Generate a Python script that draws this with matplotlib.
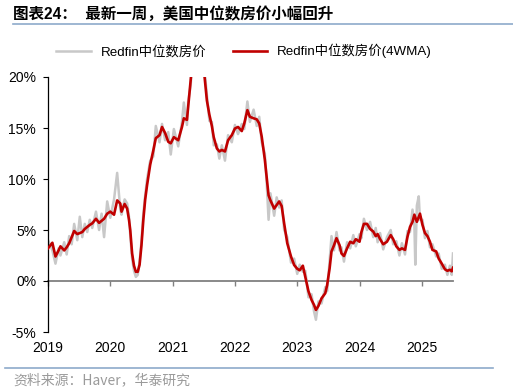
import matplotlib
matplotlib.use("Agg")
import matplotlib.pyplot as plt
from matplotlib.lines import Line2D
import matplotlib.transforms as mtransforms

plt.rcParams['font.family'] = ['Liberation Sans', 'Noto Sans CJK SC', 'DejaVu Sans']

# ---- data (decimal years, YoY %) ----
red_x = [2019.00, 2019.07, 2019.12, 2019.17, 2019.20, 2019.26, 2019.30, 2019.34, 2019.38, 2019.42,
         2019.47, 2019.51, 2019.55, 2019.59, 2019.63, 2019.67, 2019.71, 2019.77, 2019.82, 2019.86,
         2019.90, 2019.95, 2020.00, 2020.06, 2020.11, 2020.16, 2020.18, 2020.23, 2020.27, 2020.30,
         2020.32, 2020.35, 2020.38, 2020.41, 2020.44, 2020.47, 2020.50, 2020.53, 2020.56, 2020.59,
         2020.64, 2020.69, 2020.73, 2020.79, 2020.83, 2020.88, 2020.93, 2020.97, 2021.02, 2021.09,
         2021.15, 2021.18, 2021.23, 2021.25, 2021.29, 2021.33, 2021.38, 2021.42, 2021.46, 2021.51,
         2021.55, 2021.59, 2021.63, 2021.66, 2021.71, 2021.75, 2021.79, 2021.84, 2021.89, 2021.95,
         2022.00, 2022.05, 2022.11, 2022.15, 2022.20, 2022.24, 2022.30, 2022.35, 2022.39, 2022.43,
         2022.48, 2022.51, 2022.54, 2022.57, 2022.63, 2022.67, 2022.71, 2022.75, 2022.79, 2022.84,
         2022.90, 2022.95, 2023.00, 2023.04, 2023.09, 2023.13, 2023.18, 2023.23, 2023.27, 2023.30,
         2023.34, 2023.39, 2023.45, 2023.48, 2023.52, 2023.55, 2023.59, 2023.63, 2023.68, 2023.71,
         2023.75, 2023.80, 2023.85, 2023.90, 2023.94, 2024.00, 2024.03, 2024.07, 2024.12, 2024.17,
         2024.22, 2024.26, 2024.29, 2024.33, 2024.38, 2024.44, 2024.50, 2024.54, 2024.59, 2024.64,
         2024.68, 2024.73, 2024.77, 2024.81, 2024.85, 2024.88, 2024.92, 2024.97, 2025.01, 2025.05,
         2025.09, 2025.13, 2025.17, 2025.23, 2025.27, 2025.32, 2025.37, 2025.41, 2025.45, 2025.48,
         2025.50]
red_y = [3.2, 3.75, 2.4, 3.0, 3.4, 3.0, 3.3, 3.7, 4.3, 4.9,
         4.6, 4.7, 4.8, 5.1, 5.3, 5.5, 5.65, 6.1, 5.7, 5.9,
         6.1, 6.6, 6.8, 6.5, 7.9, 7.6, 6.8, 7.55, 7.1, 6.0,
         5.0, 2.7, 1.5, 0.9, 0.9, 1.6, 3.5, 6.0, 8.0, 9.4,
         11.4, 12.8, 14.0, 14.3, 15.1, 14.5, 13.65, 13.5, 14.1, 13.8,
         15.1, 15.95, 15.8, 17.1, 19.7, 22.5, 24.5, 24.8, 23.5, 20.2,
         17.7, 16.3, 15.2, 14.1, 13.0, 12.7, 12.85, 12.7, 13.8, 14.3,
         14.95, 15.1, 14.7, 15.45, 16.75, 16.1, 15.95, 15.85, 15.45, 14.15,
         11.9, 10.2, 8.4, 7.9, 7.1, 7.45, 7.8, 7.35, 5.65, 3.7,
         2.4, 1.57, 1.2, 1.05, 1.5, 0.4, -1.0, -1.86, -2.35, -2.84,
         -2.45, -1.7, -1.2, -0.4, 1.25, 2.9, 3.5, 4.2, 3.5, 2.7,
         2.45, 3.2, 3.85, 3.7, 4.1, 3.85, 4.8, 5.6, 5.6, 5.1,
         4.85, 4.4, 4.6, 4.1, 3.6, 3.85, 4.5, 4.1, 3.4, 3.05,
         3.2, 3.05, 4.35, 5.3, 5.8, 6.5, 5.8, 6.6, 5.5, 4.7,
         4.4, 3.85, 3.05, 2.9, 2.2, 1.7, 1.15, 1.0, 1.1, 0.95,
         1.3]

gray_x = [2019.00, 2019.07, 2019.12, 2019.17, 2019.20, 2019.26, 2019.30, 2019.34, 2019.38, 2019.42,
          2019.47, 2019.51, 2019.55, 2019.59, 2019.63, 2019.67, 2019.71, 2019.77, 2019.82, 2019.86,
          2019.90, 2019.95, 2020.00, 2020.06, 2020.11, 2020.16, 2020.18, 2020.23, 2020.27, 2020.30,
          2020.32, 2020.35, 2020.38, 2020.41, 2020.44, 2020.47, 2020.50, 2020.53, 2020.56, 2020.59,
          2020.64, 2020.69, 2020.73, 2020.79, 2020.83, 2020.88, 2020.93, 2020.97, 2021.02, 2021.09,
          2021.15, 2021.18, 2021.23, 2021.25, 2021.29, 2021.33, 2021.38, 2021.42, 2021.46, 2021.51,
          2021.55, 2021.59, 2021.63, 2021.66, 2021.71, 2021.75, 2021.79, 2021.84, 2021.89, 2021.95,
          2022.00, 2022.05, 2022.11, 2022.15, 2022.20, 2022.24, 2022.30, 2022.35, 2022.39, 2022.43,
          2022.48, 2022.51, 2022.54, 2022.57, 2022.63, 2022.67, 2022.71, 2022.75, 2022.79, 2022.84,
          2022.90, 2022.95, 2023.00, 2023.04, 2023.09, 2023.13, 2023.18, 2023.23, 2023.27, 2023.30,
          2023.34, 2023.39, 2023.45, 2023.48, 2023.52, 2023.55, 2023.59, 2023.63, 2023.68, 2023.71,
          2023.75, 2023.80, 2023.85, 2023.90, 2023.94, 2024.00, 2024.03, 2024.07, 2024.12, 2024.17,
          2024.22, 2024.26, 2024.29, 2024.33, 2024.38, 2024.44, 2024.50, 2024.54, 2024.59, 2024.64,
          2024.68, 2024.73, 2024.77, 2024.81, 2024.85, 2024.88, 2024.895, 2024.92, 2024.95, 2024.97,
          2025.01, 2025.05, 2025.09, 2025.13, 2025.17, 2025.23, 2025.27, 2025.32, 2025.37, 2025.41,
          2025.45, 2025.48, 2025.50]
gray_y = [4.0, 3.0, 1.7, 3.2, 2.5, 3.8, 2.6, 4.4, 3.6, 5.6,
          4.0, 6.3, 4.3, 5.6, 4.8, 6.0, 5.2, 6.8, 5.0, 6.6,
          4.3, 7.8, 6.2, 8.0, 10.6, 7.0, 6.5, 8.0, 7.6, 6.3,
          4.5, 2.2, 1.0, 0.4, 0.6, 1.9, 3.9, 6.6, 8.4, 10.0,
          11.8, 12.2, 15.2, 13.6, 15.4, 13.8, 14.6, 12.4, 14.9, 13.2,
          15.6, 17.5, 15.3, 17.6, 19.2, 23.0, 25.0, 24.4, 23.0, 20.8,
          18.2, 15.7, 15.6, 13.3, 13.4, 12.0, 13.3, 11.8, 14.3, 13.6,
          15.3, 14.4, 15.4, 14.9, 17.6, 15.6, 16.8, 15.2, 16.1, 13.6,
          12.5, 9.6, 6.0, 8.6, 6.4, 8.2, 7.2, 7.9, 5.0, 4.3,
          1.8, 2.2, 0.7, 1.6, 0.9, 1.0, -1.6, -1.3, -3.0, -3.8,
          -2.0, -2.2, -0.6, -1.0, 2.0, 4.4, 3.0, 4.8, 3.0, 3.3,
          1.9, 3.8, 3.2, 4.5, 3.4, 4.6, 4.2, 6.1, 5.0, 5.8,
          4.3, 5.2, 3.8, 4.7, 3.1, 4.3, 5.0, 3.6, 3.9, 2.5,
          3.7, 2.6, 4.9, 4.8, 7.0, 5.5, 1.6, 7.4, 8.3, 6.0,
          6.0, 4.2, 4.9, 3.3, 3.6, 2.4, 2.7, 1.2, 1.6, 0.6,
          1.5, 0.6, 2.7]

years = [2019, 2020, 2021, 2022, 2023, 2024, 2025]
year_labels = ['2019', '2020', '2021', '2022', '2023', '2024', '2025']
yticks = [-5, 0, 5, 10, 15, 20]
ytick_labels = ['-5%', '0%', '5%', '10%', '15%', '20%']

title = '图表24：  最新一周，美国中位数房价小幅回升'
source = '资料来源：Haver，华泰研究'
name_raw = 'Redfin中位数房价'
name_ma = 'Redfin中位数房价(4WMA)'

W, H = 513, 392
fig = plt.figure(figsize=(W / 100, H / 100), dpi=100)
ax = fig.add_axes([48 / W, 1 - 332 / H, 405 / W, 255 / H])

l1, = ax.plot(gray_x, gray_y, color='#c8c8c8', lw=1.8, label=name_raw, zorder=2)
l2, = ax.plot(red_x, red_y, color='#c00000', lw=1.9, label=name_ma, zorder=3)

ax.set_xlim(2019.0, 2025.5)
ax.set_ylim(-5, 20)
ax.set_yticks(yticks)
ax.set_yticklabels(ytick_labels, fontsize=10)
ax.set_xticks(years)
ax.tick_params(axis='y', direction='out', length=3.5, width=0.8, pad=5, colors='black')
ax.tick_params(axis='x', direction='out', length=3.5, width=1.0, color='#808080', labelbottom=False)

for s in ['top', 'right']:
    ax.spines[s].set_visible(False)
ax.spines['left'].set_color('black')
ax.spines['left'].set_linewidth(0.9)
ax.spines['bottom'].set_position(('data', 0))
ax.spines['bottom'].set_color('#808080')
ax.spines['bottom'].set_linewidth(1.3)
ax.spines['bottom'].set_zorder(1)

trans = mtransforms.blended_transform_factory(ax.transData, ax.transAxes)
for yr, lab in zip(years, year_labels):
    ax.text(yr, -16 / 255, lab, transform=trans, ha='center', va='center', fontsize=10)

fig.legend(handles=[l1, l2], loc='center', bbox_to_anchor=(244 / W, 1 - 51 / H),
           ncol=2, frameon=False, handlelength=2.6, handletextpad=0.7,
           columnspacing=2.0, prop={'family': ['Liberation Sans', 'Noto Sans CJK SC'], 'size': 9.6})

fig.text(13 / W, 1 - 14 / H, title, fontsize=11.2, fontweight='bold', ha='left', va='center',
         family=['Liberation Sans', 'Noto Sans CJK SC'])
fig.add_artist(Line2D([13 / W, 1.0], [1 - 23.5 / H, 1 - 23.5 / H], color='#8eaacb', lw=1.2))
fig.add_artist(Line2D([5 / W, 493 / W], [1 - 368 / H, 1 - 368 / H], color='#8eaacb', lw=1.2))
fig.text(13 / W, 1 - 380 / H, source, fontsize=10, color='#9a9a9a', ha='left', va='center',
         family=['Noto Sans CJK SC', 'Liberation Sans'])

fig.savefig('out.png', dpi=100)
